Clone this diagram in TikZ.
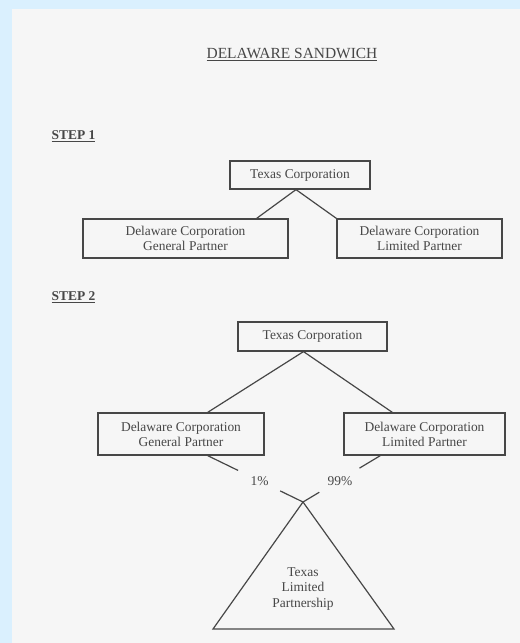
\documentclass[tikz,border=0pt]{standalone}
\usepackage{fontspec}
\setmainfont{Liberation Serif}
\usetikzlibrary{calc}
\definecolor{pageblue}{HTML}{DAF0FE}
\definecolor{paper}{HTML}{F6F6F6}
\definecolor{ink}{HTML}{474747}

\begin{document}
\begin{tikzpicture}[x=1bp,y=-1bp,line width=1.2bp,draw=ink,
  every node/.style={font=\fontsize{13.5}{15}\selectfont,text=ink,inner sep=0pt},
  corp/.style={draw=ink,align=center},
  stephead/.style={anchor=base west,font=\fontsize{13.5}{15}\selectfont\bfseries}]
\fill[pageblue] (0,0) rectangle (520,643);
\fill[paper] (12,9) rectangle (520,643);
\node[anchor=base,font=\fontsize{15.5}{17}\selectfont] (title) at (292,58.5) {\underline{DELAWARE SANDWICH}};
\node[stephead] (stepA) at (51,140) {\underline{STEP 1}};
\node[stephead] (stepB) at (51,300.5) {\underline{STEP 2}};
\node[corp,minimum width=140bp,minimum height=28bp] (texA) at (300,175) {Texas Corporation};
\node[corp,minimum width=205bp,minimum height=39bp] (gpA) at (185.5,238.5) {Delaware Corporation\\General Partner};
\node[corp,minimum width=165bp,minimum height=39bp] (lpA) at (419.5,238.5) {Delaware Corporation\\Limited Partner};
\draw ([xshift=-4bp]texA.south) -- ([xshift=-32bp]gpA.north east);
\draw ([xshift=-4bp]texA.south) -- (lpA.north west);
\node[corp,minimum width=149bp,minimum height=29bp] (texB) at (312.5,336.5) {Texas Corporation};
\node[corp,minimum width=166bp,minimum height=42bp] (gpB) at (181,434) {Delaware Corporation\\General Partner};
\node[corp,minimum width=161bp,minimum height=42bp] (lpB) at (424.5,434) {Delaware Corporation\\Limited Partner};
\draw ([xshift=-9bp]texB.south) -- ([xshift=-57bp]gpB.north east);
\draw ([xshift=-9bp]texB.south) -- ([xshift=49bp]lpB.north west);
\coordinate (gpfoot) at ([xshift=-57bp]gpB.south east);
\coordinate (lpfoot) at ([xshift=37bp]lpB.south west);
\coordinate (apex) at (303,502);
\node (gpshare) at (259.5,481) {1\%};
\node (lpshare) at (340,481) {99\%};
\draw (gpfoot) -- ($(gpfoot)!0.32!(apex)$);
\draw ($(gpfoot)!0.76!(apex)$) -- (apex);
\draw (lpfoot) -- ($(lpfoot)!0.27!(apex)$);
\draw ($(lpfoot)!0.79!(apex)$) -- (apex);
\draw (apex) -- (213,629) -- (394,629) -- cycle;
\node[align=center,font=\fontsize{13.5}{16}\selectfont] (tlp) at (303,589) {Texas\\Limited\\Partnership};
\end{tikzpicture}
\end{document}
